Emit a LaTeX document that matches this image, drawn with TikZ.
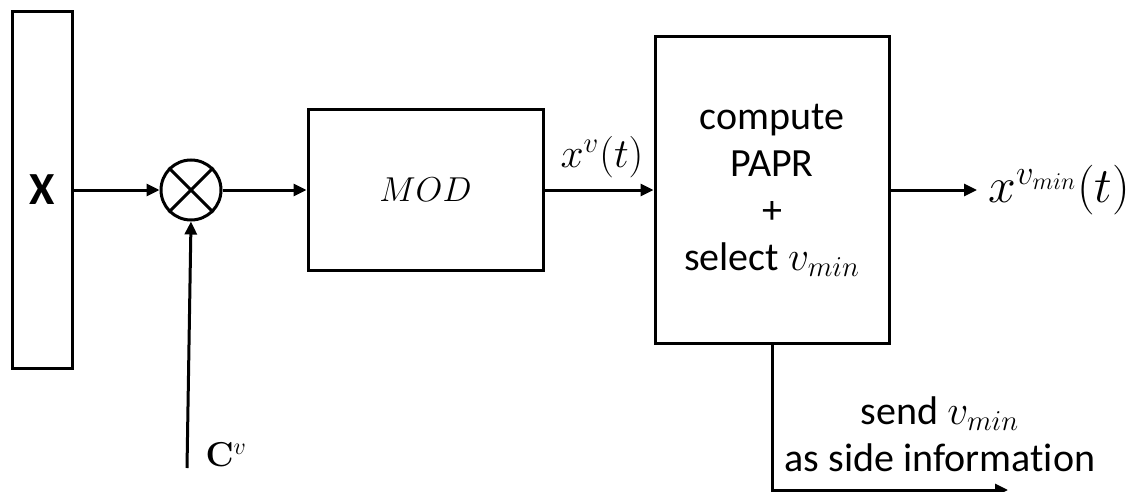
\documentclass[tikz,border=0pt]{standalone}
\usepackage{amsmath}
\usepackage{bm}
\usepackage[no-math]{fontspec}
\setmainfont{Carlito}[Ligatures=NoCommon]
\usetikzlibrary{positioning,calc,arrows.meta}
\tikzset{font=\fontsize{20}{23.5}\selectfont}

\begin{document}
\begin{tikzpicture}[x=0.5pt, y=-0.5pt, line width=1.5pt, >={Triangle[length=6.5pt,width=6pt]}]
	\useasboundingbox (0,0) rectangle (1129,492);
	\begin{scope}
		\tikzstyle{every node}=[align=center, inner sep=1pt]
		\tikzstyle{box}=[draw, line width=1.5pt]
		\tikzstyle{lbl}=[font=\fontsize{22}{22}\selectfont]
		\node[box, minimum width=30pt, minimum height=178pt, font=\fontsize{23}{23}\selectfont\bfseries] (x) at (42,190) {X};
		\node[draw, circle, minimum size=30pt, inner sep=0pt] (mul) at (191,190) {};
		\node[box, minimum width=117.5pt, minimum height=80.5pt, font=\fontsize{19}{19}\selectfont] (mod) at (425.5,190) {$MOD$};
		\node[box, minimum width=117pt, minimum height=153.5pt] (sel) at (772,190) {compute\\PAPR\\+\\select $v_{min}$};

		\node[lbl] (xv) at (602,157) {$x^{v}(t)$};
		\coordinate (out) at (977,190);
		\node[lbl, anchor=west, inner sep=0pt, font=\fontsize{23}{23}\selectfont] (xout) at (987,190) {$x^{v_{min}}(t)$};
		\coordinate (cvin) at (187,468);
		\node[anchor=west, inner sep=0pt, font=\fontsize{18}{18}\selectfont] (cv) at (204,455) {$\mathbf{C}^{v}$};
		\coordinate (bend) at (772,490);
		\coordinate (side) at (1008,490);
		\node (sinfo) at (940,434) {send $v_{min}$\\as side information};

		\draw (mul.north west) -- (mul.south east);
		\draw (mul.north east) -- (mul.south west);
		\draw[->] (x) -- (mul);
		\draw[->] (mul) -- (mod);
		\draw[->] (mod) -- (sel);
		\draw[->] (sel) -- (out);
		\draw[->] (cvin) -- (mul.south);
		\draw[->] (sel.south) -- (bend) -- (side);
	\end{scope}
\end{tikzpicture}
\end{document}
